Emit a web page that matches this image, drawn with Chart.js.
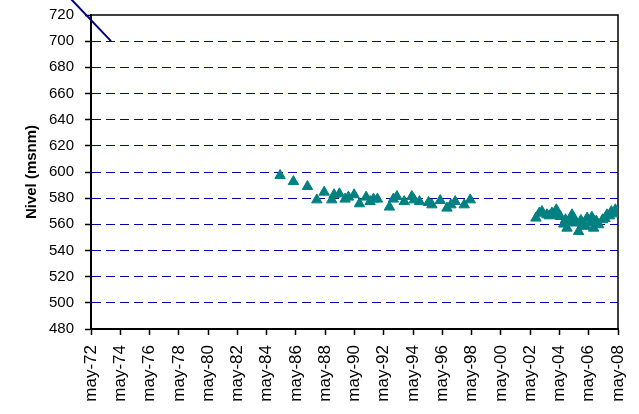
<!DOCTYPE html>
<html><head><meta charset="utf-8">
<script src="https://cdn.jsdelivr.net/npm/chart.js@4"></script>
<style>html,body{margin:0;padding:0;background:#fff}#wrap{width:639px;height:414px}</style>
</head><body><div id="wrap"><canvas id="c" width="639" height="414"></canvas></div>
<script>
const tickLabels = ['may-72','may-74','may-76','may-78','may-80','may-82','may-84','may-86','may-88','may-90','may-92','may-94','may-96','may-98','may-00','may-02','may-04','may-06','may-08'];
const yTicks = [480,500,520,540,560,580,600,620,640,660,680,700,720];

// early trend line (decimal years, masl)
const lineYears  = [1970.90, 1973.70];
const lineLevels = [733, 700];

// observed levels (decimal years, masl)
const obsYears = [
  1985.25, 1986.16, 1987.12, 1987.76, 1988.26, 1988.78, 1988.94, 1989.30, 1989.69, 1989.92,
  1990.31, 1990.67, 1991.13, 1991.40, 1991.63, 1991.90, 1992.72, 1992.99, 1993.23, 1993.73,
  1994.25, 1994.41, 1994.77, 1995.39, 1995.62, 1996.19, 1996.65, 1996.92, 1997.21, 1997.83, 1998.24,
  2002.73, 2002.95, 2003.14, 2003.48, 2003.65, 2003.82, 2004.00, 2004.12, 2004.39, 2004.62,
  2004.75, 2004.85, 2005.05, 2005.19, 2005.30, 2005.42, 2005.64, 2005.80, 2005.92, 2006.10,
  2006.22, 2006.44, 2006.55, 2006.67, 2006.85, 2007.01, 2007.28, 2007.45, 2007.58, 2007.75,
  2007.88, 2008.05, 2008.15
];
const obsLevels = [
  597.3, 592.7, 588.9, 578.7, 584.6, 578.7, 582.6, 583.3, 579.3, 580.8,
  582.6, 575.7, 580.8, 577.4, 579.3, 579.3, 573.2, 579.3, 581.3, 577.4,
  581.3, 578.7, 577.4, 576.7, 574.9, 578.2, 572.4, 574.9, 577.4, 574.9, 578.7,
  564.8, 568.5, 569.8, 567.3, 566.5, 568.6, 567.5, 571.1, 566.0, 560.2,
  563.5, 557.1, 561.5, 567.3, 565.0, 561.0, 554.5, 563.0, 559.7, 558.5,
  564.8, 561.0, 565.5, 557.1, 562.5, 559.7, 563.5, 564.5, 567.3, 566.5,
  569.8, 568.0, 571.1
];

function labelToYear(l){ const yy = parseInt(l.slice(4),10); return (yy < 50 ? 2000 : 1900) + yy + 4/12; }
const tickYears = tickLabels.map(labelToYear);

const framePlugin = {
  id: 'frame',
  beforeDatasetsDraw(chart){
    const {ctx, chartArea:a} = chart;
    ctx.save();
    ctx.strokeStyle = '#000';
    ctx.lineWidth = 1.5;
    ctx.beginPath();
    ctx.moveTo(a.left, a.top); ctx.lineTo(a.right, a.top); ctx.lineTo(a.right, a.bottom);
    ctx.stroke();
    ctx.restore();
  }
};

new Chart(document.getElementById('c'), {
  type: 'scatter',
  data: {
    datasets: [
      {
        data: lineYears.map((x,i)=>({x, y: lineLevels[i]})),
        showLine: true, borderColor: '#000080', borderWidth: 2, pointRadius: 0,
        clip: false, order: 1
      },
      {
        data: obsYears.map((x,i)=>({x, y: obsLevels[i]})),
        pointStyle: 'triangle', pointRadius: 6, borderWidth: 1,
        backgroundColor: '#008080', borderColor: '#008080', order: 0
      }
    ]
  },
  options: {
    responsive: false, animation: false, devicePixelRatio: 1,
    layout: { padding: { top: 15, right: 21, left: 0, bottom: 0 } },
    plugins: { legend: { display: false }, tooltip: { enabled: false } },
    scales: {
      x: {
        type: 'linear', min: tickYears[0], max: tickYears[tickYears.length-1],
        afterBuildTicks: s => { s.ticks = tickYears.map(v => ({value: v})); },
        afterFit: s => { s.height = 85; s.paddingLeft = 0; s.paddingRight = 0; },
        grid: { drawOnChartArea: false, drawTicks: true, tickLength: 6, tickColor: '#000', tickWidth: 1.5 },
        border: { display: true, color: '#000', width: 2 },
        ticks: {
          autoSkip: false, maxRotation: 90, minRotation: 90, padding: 10, color: '#000',
          font: { family: 'Liberation Sans, Arial, sans-serif', size: 17 },
          callback: (v, i) => tickLabels[i]
        }
      },
      y: {
        min: 480, max: 720,
        afterBuildTicks: s => { s.ticks = yTicks.map(v => ({value: v})); },
        afterFit: s => { s.width = 91; s.paddingTop = 0; s.paddingBottom = 0; },
        grid: {
          color: c => (c.tick && (c.tick.value === 480 || c.tick.value === 720)) ? 'rgba(0,0,0,0)' : '#0000A0',
          lineWidth: 1, drawTicks: true, tickLength: 6, tickColor: '#000', tickWidth: 1.5, tickBorderDash: []
        },
        border: { display: true, color: '#000', width: 2, dash: [9,5] },
        ticks: {
          padding: 11, color: '#000',
          font: { family: 'Liberation Sans, Arial, sans-serif', size: 15 },
          callback: v => String(v)
        },
        title: {
          display: true, text: 'Nivel (msnm)', color: '#000',
          font: { family: 'Liberation Sans, Arial, sans-serif', size: 15, weight: 'bold' },
          padding: { top: 23, bottom: 0 }
        }
      }
    }
  },
  plugins: [framePlugin]
});
</script>
</body></html>
